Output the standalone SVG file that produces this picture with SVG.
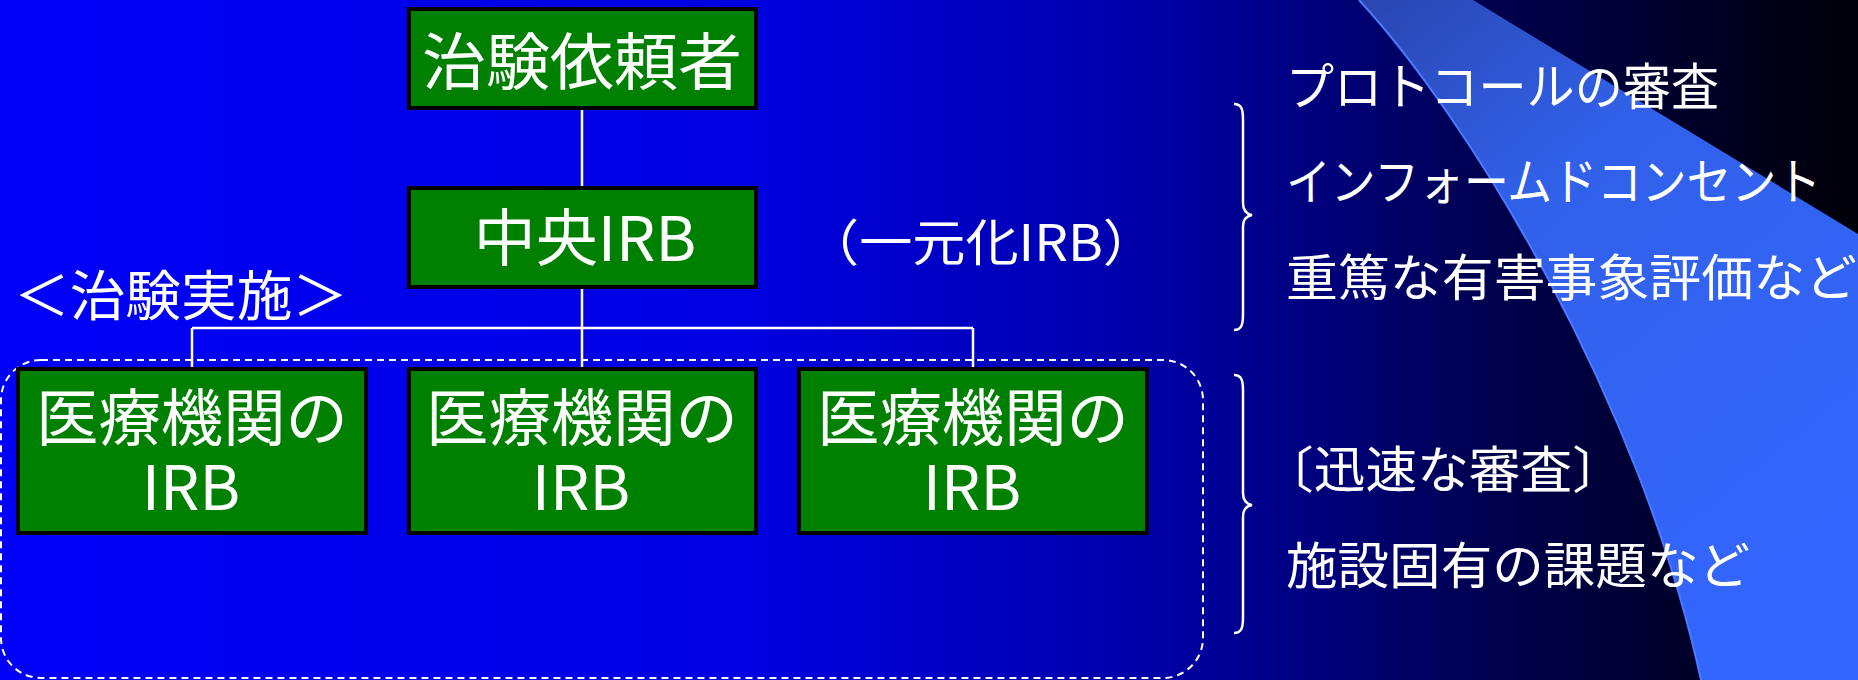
<svg xmlns="http://www.w3.org/2000/svg" width="1858" height="680" viewBox="0 0 1858 680">
<defs>
<linearGradient id="bg" x1="0" y1="0" x2="1" y2="0">
<stop offset="0" stop-color="#0000F8"/>
<stop offset="0.4" stop-color="#0000E2"/>
<stop offset="0.62" stop-color="#0000A8"/>
<stop offset="0.8" stop-color="#000050"/>
<stop offset="1" stop-color="#000008"/>
</linearGradient>
<linearGradient id="band" x1="0" y1="0" x2="0.6" y2="1">
<stop offset="0" stop-color="#2A46B0"/>
<stop offset="0.35" stop-color="#3160E8"/>
<stop offset="1" stop-color="#3366FF"/>
</linearGradient>
<style>
.box{fill:#008000;stroke:#000;stroke-width:4}
.t{font-family:"Noto Sans CJK JP","Noto Sans",sans-serif;fill:#fff}
.big{font-size:62px;text-anchor:middle}
.side{font-size:50px}
.conn{stroke:#fff;stroke-width:2.5;fill:none}
.brace{stroke:#fff;stroke-width:2.5;fill:none}
</style>
</defs>
<rect x="0" y="0" width="1858" height="680" fill="url(#bg)"/>
<path d="M1359,0 L1473,0 L1858,234 L1858,680 L1701,680 C1640,400 1470,120 1359,0 Z" fill="url(#band)"/>
<path d="M1359,0 C1470,120 1640,400 1701,680" stroke="#4A7BFF" stroke-width="2" fill="none"/>

<rect id="group-frame" x="1" y="360" width="1202" height="318" rx="40" ry="40" fill="none" stroke="#fff" stroke-width="2" stroke-dasharray="7,5"/>

<g id="connectors">
<line class="conn" x1="582" y1="108" x2="582" y2="188"/>
<line class="conn" x1="582" y1="287" x2="582" y2="369"/>
<line class="conn" x1="192" y1="328" x2="973" y2="328"/>
<line class="conn" x1="192" y1="328" x2="192" y2="369"/>
<line class="conn" x1="973" y1="328" x2="973" y2="369"/>
</g>

<g id="sponsor">
<rect class="box" x="409" y="9" width="347" height="99"/>
<text class="t big" x="582" y="85" textLength="320" lengthAdjust="spacingAndGlyphs">治験依頼者</text>
</g>
<g id="central-irb">
<rect class="box" x="409" y="188" width="347" height="99"/>
<text class="t big" x="585" y="261">中央IRB</text>
</g>
<g id="site-irb-1">
<rect class="box" x="18" y="369" width="348" height="164"/>
<text class="t big" x="192" y="441" textLength="312" lengthAdjust="spacingAndGlyphs">医療機関の</text>
<text class="t big" x="191" y="510">IRB</text>
</g>
<g id="site-irb-2">
<rect class="box" x="409" y="369" width="347" height="164"/>
<text class="t big" x="582" y="441" textLength="312" lengthAdjust="spacingAndGlyphs">医療機関の</text>
<text class="t big" x="581" y="510">IRB</text>
</g>
<g id="site-irb-3">
<rect class="box" x="799" y="369" width="348" height="164"/>
<text class="t big" x="973" y="441" textLength="312" lengthAdjust="spacingAndGlyphs">医療機関の</text>
<text class="t big" x="972" y="510">IRB</text>
</g>

<g id="labels">
<text class="t" x="14" y="316" font-size="54" textLength="334" lengthAdjust="spacingAndGlyphs">＜治験実施＞</text>
<text class="t" x="806" y="261" font-size="50" textLength="350" lengthAdjust="spacingAndGlyphs">（一元化IRB）</text>
<text class="t side" x="1286" y="105" textLength="433" lengthAdjust="spacingAndGlyphs">プロトコールの審査</text>
<text class="t side" x="1286" y="200" textLength="535" lengthAdjust="spacingAndGlyphs">インフォームドコンセント</text>
<text class="t side" x="1286" y="296" textLength="571" lengthAdjust="spacingAndGlyphs">重篤な有害事象評価など</text>
<text class="t side" x="1262" y="488" textLength="362" lengthAdjust="spacingAndGlyphs">〔迅速な審査〕</text>
<text class="t side" x="1286" y="584" textLength="464" lengthAdjust="spacingAndGlyphs">施設固有の課題など</text>
</g>

<g id="braces">
<path class="brace" d="M1234,104 C1242,104 1243,110 1243,120 L1243,203 C1243,210 1246,214 1252,215 C1246,216 1243,220 1243,227 L1243,314 C1243,324 1242,330 1234,330"/>
<path class="brace" d="M1234,375 C1242,375 1243,381 1243,391 L1243,493 C1243,500 1246,504 1252,505 C1246,506 1243,510 1243,517 L1243,617 C1243,627 1242,633 1234,633"/>
</g>
</svg>
